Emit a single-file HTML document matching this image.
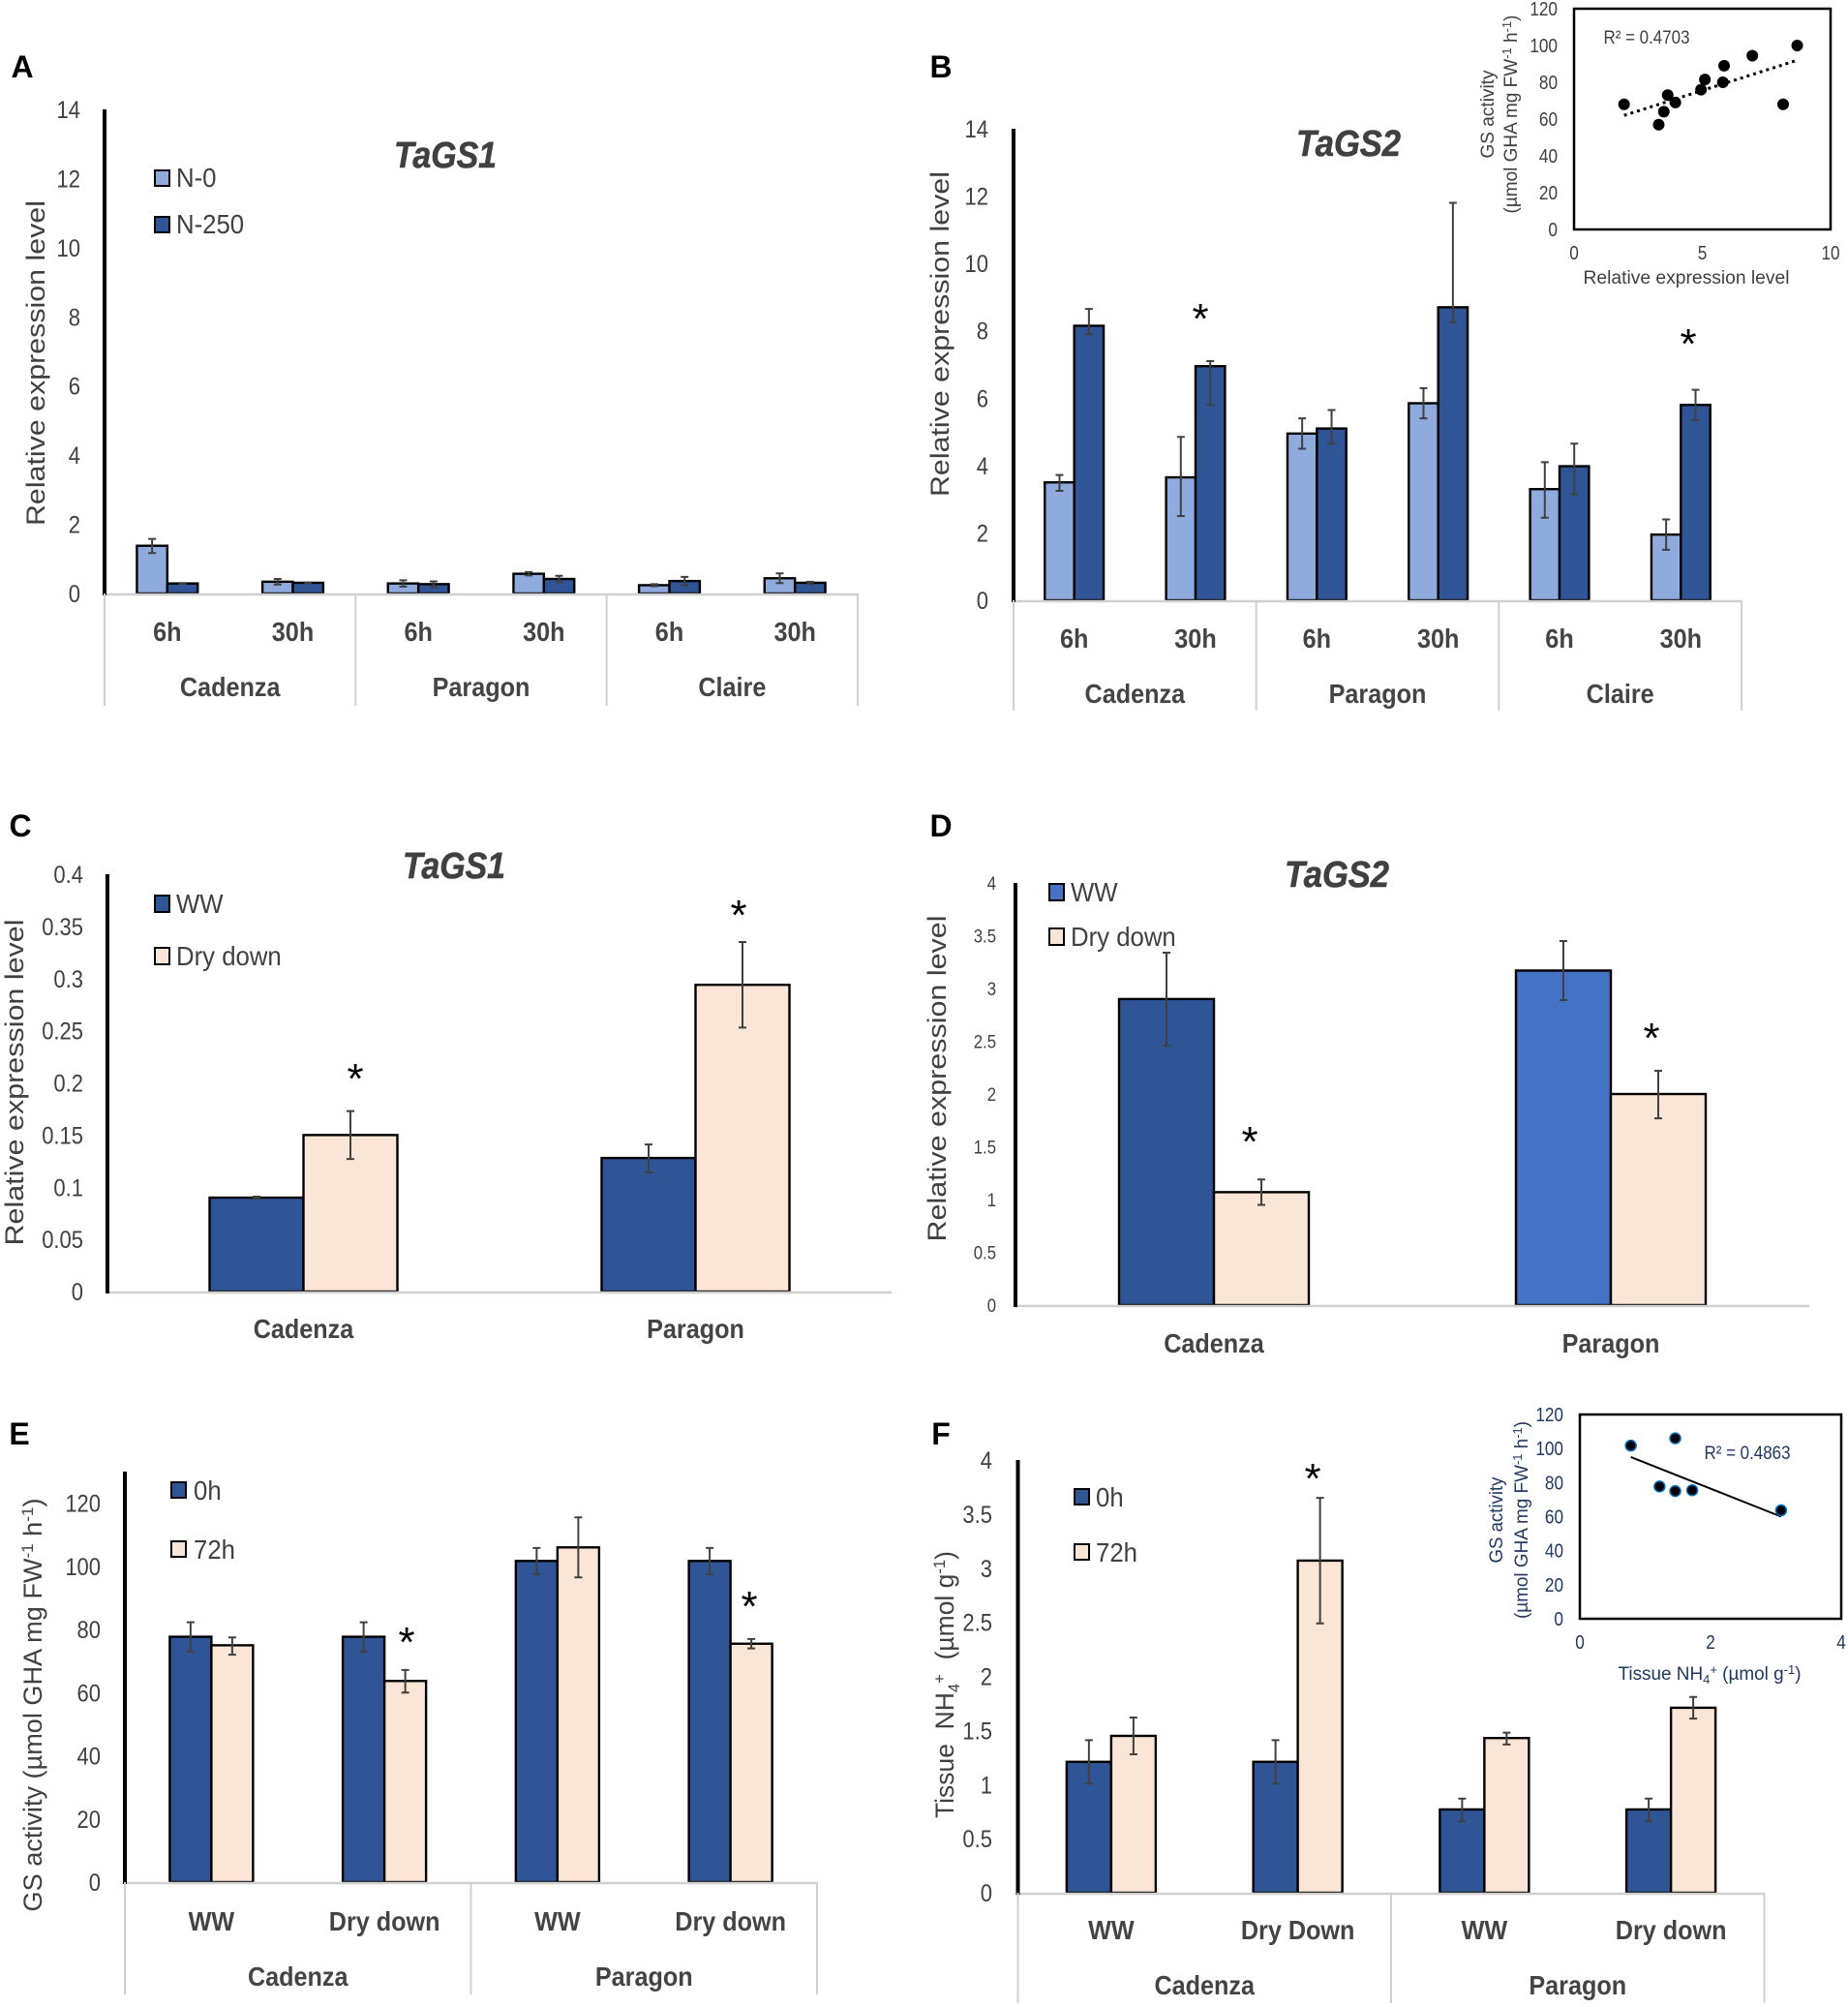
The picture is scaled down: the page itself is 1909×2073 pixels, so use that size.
<!DOCTYPE html>
<html lang="en">
<head>
<meta charset="utf-8">
<title>Glutamine synthetase expression and activity panels</title>
<style>
html,body{margin:0;padding:0;background:#fff;}
svg{display:block;}
text{font-family:"Liberation Sans",sans-serif;fill:#404040;}
.title{font-weight:bold;font-style:italic;font-size:38px;fill:#404040;stroke:#404040;stroke-width:.6px;text-anchor:middle;}
.letter{font-weight:bold;font-size:32px;fill:#000;text-anchor:middle;}
.ytitle{font-size:27px;text-anchor:middle;white-space:pre;}
.legend{font-size:28px;}
.star{font-size:44px;fill:#000;text-anchor:middle;}
.inset{font-size:19px;text-anchor:middle;}
.navy{fill:#1f3864;}
</style>
</head>
<body>
<svg id="fig" width="1909" height="2073" viewBox="0 0 1909 2073" xmlns="http://www.w3.org/2000/svg">
<rect x="0" y="0" width="1909" height="2073" fill="#fff"/>

<text class="letter" x="23" y="80">A</text>
<text class="letter" x="972" y="80">B</text>
<text class="letter" x="21" y="864">C</text>
<text class="letter" x="972" y="864">D</text>
<text class="letter" x="20" y="1492">E</text>
<text class="letter" x="972" y="1492">F</text>

<text class="title" x="460" y="173" textLength="106" lengthAdjust="spacingAndGlyphs">TaGS1</text>
<text class="title" x="1393" y="161" textLength="108" lengthAdjust="spacingAndGlyphs">TaGS2</text>
<text class="title" x="469" y="907" textLength="106" lengthAdjust="spacingAndGlyphs">TaGS1</text>
<text class="title" x="1381" y="916" textLength="108" lengthAdjust="spacingAndGlyphs">TaGS2</text>

<text class="ytitle" transform="translate(46,375) rotate(-90)" textLength="336" lengthAdjust="spacingAndGlyphs">Relative expression level</text>
<text class="ytitle" transform="translate(980,345) rotate(-90)" textLength="336" lengthAdjust="spacingAndGlyphs">Relative expression level</text>
<text class="ytitle" transform="translate(24,1118) rotate(-90)" textLength="337" lengthAdjust="spacingAndGlyphs">Relative expression level</text>
<text class="ytitle" transform="translate(977,1114) rotate(-90)" textLength="337" lengthAdjust="spacingAndGlyphs">Relative expression level</text>
<text class="ytitle" transform="translate(43,1761) rotate(-90)" textLength="427" lengthAdjust="spacingAndGlyphs">GS activity (µmol GHA mg FW<tspan font-size="17" dy="-9">-1</tspan><tspan dy="9"> h</tspan><tspan font-size="17" dy="-9">-1</tspan><tspan dy="9">)</tspan></text>
<text class="ytitle" transform="translate(985,1740) rotate(-90)" textLength="276" lengthAdjust="spacingAndGlyphs">Tissue  NH<tspan font-size="17" dy="6">4</tspan><tspan font-size="17" dy="-15">+</tspan><tspan dy="9">  (µmol g</tspan><tspan font-size="17" dy="-9">-1</tspan><tspan dy="9">)</tspan></text>

<g>
  <rect x="160" y="176" width="15" height="16" fill="#8faadc" stroke="#000" stroke-width="2"/>
  <text class="legend" transform="translate(182,193) scale(.92,1)">N-0</text>
  <rect x="160" y="224" width="15" height="16" fill="#2f5597" stroke="#000" stroke-width="2"/>
  <text class="legend" transform="translate(182,241) scale(.92,1)">N-250</text>
</g>
<g>
  <rect x="160" y="925" width="15" height="17" fill="#2f5597" stroke="#000" stroke-width="2"/>
  <text class="legend" transform="translate(182,943) scale(.92,1)">WW</text>
  <rect x="160" y="979" width="15" height="17" fill="#fbe5d6" stroke="#000" stroke-width="2"/>
  <text class="legend" transform="translate(182,997) scale(.92,1)">Dry down</text>
</g>
<g>
  <rect x="1084" y="913" width="15" height="17" fill="#4472c4" stroke="#000" stroke-width="2"/>
  <text class="legend" transform="translate(1106,931) scale(.92,1)">WW</text>
  <rect x="1084" y="959" width="15" height="17" fill="#fbe5d6" stroke="#000" stroke-width="2"/>
  <text class="legend" transform="translate(1106,977) scale(.92,1)">Dry down</text>
</g>
<g>
  <rect x="177" y="1531" width="15" height="16" fill="#2f5597" stroke="#000" stroke-width="2"/>
  <text class="legend" transform="translate(200,1549) scale(.92,1)">0h</text>
  <rect x="177" y="1592" width="15" height="16" fill="#fbe5d6" stroke="#000" stroke-width="2"/>
  <text class="legend" transform="translate(200,1610) scale(.92,1)">72h</text>
</g>
<g>
  <rect x="1110" y="1538" width="15" height="16" fill="#2f5597" stroke="#000" stroke-width="2"/>
  <text class="legend" transform="translate(1132,1556) scale(.92,1)">0h</text>
  <rect x="1110" y="1595" width="15" height="16" fill="#fbe5d6" stroke="#000" stroke-width="2"/>
  <text class="legend" transform="translate(1132,1613) scale(.92,1)">72h</text>
</g>

<text class="inset" x="1742" y="293" textLength="213" lengthAdjust="spacingAndGlyphs">Relative expression level</text>
<text class="inset" transform="translate(1543,118) rotate(-90)" textLength="91" lengthAdjust="spacingAndGlyphs">GS activity</text>
<text class="inset" transform="translate(1567,118) rotate(-90)" textLength="205" lengthAdjust="spacingAndGlyphs">(µmol GHA mg FW<tspan font-size="13" dy="-6">-1</tspan><tspan dy="6"> h</tspan><tspan font-size="13" dy="-6">-1</tspan><tspan dy="6">)</tspan></text>
<text class="inset" x="1701" y="45" textLength="89" lengthAdjust="spacingAndGlyphs">R² = 0.4703</text>

<text class="inset navy" x="1766" y="1735" textLength="189" lengthAdjust="spacingAndGlyphs">Tissue NH<tspan font-size="13" dy="4">4</tspan><tspan font-size="13" dy="-10">+</tspan><tspan dy="6"> (µmol g</tspan><tspan font-size="13" dy="-6">-1</tspan><tspan dy="6">)</tspan></text>
<text class="inset navy" transform="translate(1552,1570) rotate(-90)" textLength="89" lengthAdjust="spacingAndGlyphs">GS activity</text>
<text class="inset navy" transform="translate(1578,1570) rotate(-90)" textLength="204" lengthAdjust="spacingAndGlyphs">(µmol GHA mg FW<tspan font-size="13" dy="-6">-1</tspan><tspan dy="6"> h</tspan><tspan font-size="13" dy="-6">-1</tspan><tspan dy="6">)</tspan></text>
<text class="inset navy" x="1805" y="1507" textLength="89" lengthAdjust="spacingAndGlyphs">R² = 0.4863</text>

<text class="star" x="1240" y="344">*</text>
<text class="star" x="1744" y="370">*</text>
<text class="star" x="367" y="1129">*</text>
<text class="star" x="763" y="960">*</text>
<text class="star" x="1291" y="1194">*</text>
<text class="star" x="1706" y="1087">*</text>
<text class="star" x="420" y="1711">*</text>
<text class="star" x="774" y="1674">*</text>
<text class="star" x="1356" y="1542">*</text>
</svg>

<script>
// Panel A
const aTicks = [0, 2, 4, 6, 8, 10, 12, 14];
const aCategories = ['6h', '30h', '6h', '30h', '6h', '30h'];
const aGroups = ['Cadenza', 'Paragon', 'Claire'];
const aN0 = [1.38, 0.34, 0.29, 0.57, 0.24, 0.44];
const aN0Low = [1.17, 0.26, 0.2, 0.52, 0.21, 0.3];
const aN0High = [1.58, 0.42, 0.38, 0.62, 0.27, 0.58];
const aN250 = [0.29, 0.31, 0.27, 0.42, 0.36, 0.31];
const aN250Low = [0.28, 0.3, 0.18, 0.33, 0.24, 0.27];
const aN250High = [0.3, 0.32, 0.35, 0.51, 0.48, 0.34];

// Panel B
const bTicks = [0, 2, 4, 6, 8, 10, 12, 14];
const bCategories = ['6h', '30h', '6h', '30h', '6h', '30h'];
const bGroups = ['Cadenza', 'Paragon', 'Claire'];
const bN0 = [3.5, 3.65, 4.95, 5.85, 3.3, 1.95];
const bN0Low = [3.25, 2.5, 4.5, 5.4, 2.45, 1.5];
const bN0High = [3.72, 4.85, 5.4, 6.3, 4.1, 2.4];
const bN250 = [8.15, 6.95, 5.1, 8.7, 3.98, 5.8];
const bN250Low = [7.9, 5.8, 4.65, 8.25, 3.15, 5.35];
const bN250High = [8.65, 7.1, 5.65, 11.8, 4.65, 6.25];

// Panel C
const cTicks = [0, 0.05, 0.1, 0.15, 0.2, 0.25, 0.3, 0.35, 0.4];
const cCategories = ['Cadenza', 'Paragon'];
const cWW = [0.09, 0.128];
const cWWLow = [0.089, 0.114];
const cWWHigh = [0.091, 0.141];
const cDry = [0.15, 0.294];
const cDryLow = [0.127, 0.253];
const cDryHigh = [0.173, 0.335];

// Panel D
const dTicks = [0, 0.5, 1, 1.5, 2, 2.5, 3, 3.5, 4];
const dCategories = ['Cadenza', 'Paragon'];
const dWW = [2.9, 3.17];
const dWWLow = [2.46, 2.89];
const dWWHigh = [3.34, 3.45];
const dDry = [1.07, 2.0];
const dDryLow = [0.95, 1.77];
const dDryHigh = [1.19, 2.22];

// Panel E
const eTicks = [0, 20, 40, 60, 80, 100, 120];
const eCategories = ['WW', 'Dry down', 'WW', 'Dry down'];
const eGroups = ['Cadenza', 'Paragon'];
const e0h = [77.7, 77.7, 101.7, 101.7];
const e0hLow = [73, 73, 97.5, 97.5];
const e0hHigh = [82.3, 82.3, 105.8, 105.8];
const e72h = [75, 63.7, 106, 75.5];
const e72hLow = [72, 60, 96.5, 74];
const e72hHigh = [77.5, 67.2, 115.5, 77];

// Panel F
const fTicks = [0, 0.5, 1, 1.5, 2, 2.5, 3, 3.5, 4];
const fCategories = ['WW', 'Dry Down', 'WW', 'Dry down'];
const fGroups = ['Cadenza', 'Paragon'];
const f0h = [1.21, 1.21, 0.77, 0.77];
const f0hLow = [1.01, 1.01, 0.66, 0.66];
const f0hHigh = [1.41, 1.41, 0.87, 0.87];
const f72h = [1.45, 3.07, 1.43, 1.71];
const f72hLow = [1.28, 2.49, 1.37, 1.61];
const f72hHigh = [1.62, 3.65, 1.48, 1.81];

// Inset B
const ibXTicks = [0, 5, 10];
const ibYTicks = [0, 20, 40, 60, 80, 100, 120];
const ibX = [1.95, 3.3, 3.5, 3.65, 3.95, 4.95, 5.1, 5.8, 5.85, 6.95, 8.15, 8.7];
const ibY = [68, 57, 64, 73, 69, 76, 81.5, 80, 89, 94.5, 68, 100];
const ibTrendX = [1.95, 8.7];
const ibTrendY = [62, 92];

// Inset F
const ifXTicks = [0, 2, 4];
const ifYTicks = [0, 20, 40, 60, 80, 100, 120];
const ifX = [0.78, 1.22, 1.46, 1.46, 1.72, 3.08];
const ifY = [101.7, 77.7, 106, 75, 75.5, 63.7];
const ifTrendX = [0.78, 3.08];
const ifTrendY = [95, 60];

const svg = document.getElementById('fig');
const NS = 'http://www.w3.org/2000/svg';

function shape(parent, tag, attrs) {
  const el = document.createElementNS(NS, tag);
  for (const k in attrs) el.setAttribute(k, attrs[k]);
  parent.appendChild(el);
  return el;
}
function label(parent, x, y, str, size, anchor, bold, sx, color) {
  const el = shape(parent, 'text', {
    transform: 'translate(' + x + ',' + y + ') scale(' + sx + ',1)',
    'font-size': size,
    'text-anchor': anchor,
    'font-weight': bold ? 'bold' : 'normal',
    style: 'fill:' + color
  });
  el.textContent = str;
  return el;
}

function drawBars(prefix, p, ticks, categories, groups, series) {
  const g = shape(svg, 'g', {});
  
  
  const yOf = v => p.y0 - v / p.max * (p.y0 - p.yTop);
  const catW = (p.x1 - p.x0) / categories.length;
  const catX = i => p.x0 + catW * (i + 0.5);

  ticks.forEach(t => {
    const tl = label(g, p.tickX, yOf(t) + p.tickSize * 0.36, String(t), p.tickSize, 'end', false, p.tickSx, '#404040');
    
    
  });

  series.forEach((s, si) => {
    s.values.forEach((v, i) => {
      const bx = catX(i) + (si - series.length / 2) * p.barW;
      const fill = s.colors ? s.colors[i] : s.color;
      const bar = shape(g, 'rect', { x: bx, y: yOf(v), width: p.barW, height: p.y0 - yOf(v), fill: fill, stroke: '#000', 'stroke-width': 2.4 });
      
      
    });
  });
  series.forEach((s, si) => {
    s.values.forEach((v, i) => {
      const ex = catX(i) + (si - series.length / 2 + 0.5) * p.barW;
      const path = 'M' + (ex - 4) + ' ' + yOf(s.high[i]) + 'H' + (ex + 4) + 'M' + ex + ' ' + yOf(s.high[i]) + 'V' + yOf(s.low[i]) + 'M' + (ex - 4) + ' ' + yOf(s.low[i]) + 'H' + (ex + 4);
      const err = shape(g, 'path', { d: path, fill: 'none', stroke: '#404040', 'stroke-width': 2 });
      
      
    });
  });

  const xAxis = shape(g, 'line', { x1: p.x0, x2: p.x1, y1: p.y0 + 1, y2: p.y0 + 1, stroke: '#d0d0d0', 'stroke-width': 2.5 });
  
  
  const yAxis = shape(g, 'line', { x1: p.x0, x2: p.x0, y1: p.yTop, y2: p.y0 + 2, stroke: '#000', 'stroke-width': 4 });
  
  

  categories.forEach((c, i) => {
    const cl = label(g, catX(i), p.catY, c, p.catSize, 'middle', true, p.catSx, '#444');
    
    
  });
  if (groups) {
    const perGroup = categories.length / groups.length;
    groups.forEach((gr, i) => {
      const gl = label(g, p.x0 + catW * perGroup * (i + 0.5), p.groupY, gr, p.catSize, 'middle', true, p.catSx, '#444');
      
      
    });
    for (let i = 0; i <= groups.length; i++) {
      const sx = p.x0 + catW * perGroup * i;
      const sep = shape(g, 'line', { x1: sx, x2: sx, y1: p.y0, y2: p.sepY, stroke: '#d0d0d0', 'stroke-width': 2 });
      
      
    }
  }
}

function drawScatter(prefix, b, xTicks, yTicks, xs, ys, tx, ty, opt) {
  const g = shape(svg, 'g', {});
  
  
  const xOf = v => b.x0 + v / xTicks[xTicks.length - 1] * (b.x1 - b.x0);
  const yOf = v => b.y1 - v / yTicks[yTicks.length - 1] * (b.y1 - b.y0);
  const box = shape(g, 'rect', { x: b.x0, y: b.y0, width: b.x1 - b.x0, height: b.y1 - b.y0, fill: 'none', stroke: '#000', 'stroke-width': 2.5 });
  
  
  yTicks.forEach(t => {
    const tl = label(g, b.x0 - 17, yOf(t) + 7, String(t), 20, 'end', false, 0.86, opt.text);
    
    
  });
  xTicks.forEach(t => {
    const tl = label(g, xOf(t), b.xLabelY, String(t), 20, 'middle', false, 0.86, opt.text);
    
    
  });
  const trend = shape(g, 'line', { x1: xOf(tx[0]), y1: yOf(ty[0]), x2: xOf(tx[1]), y2: yOf(ty[1]), stroke: '#000', 'stroke-width': opt.dash ? 3 : 2, 'stroke-dasharray': opt.dash || 'none' });
  
  
  xs.forEach((x, i) => {
    const dot = shape(g, 'circle', { cx: xOf(x), cy: yOf(ys[i]), r: opt.r, fill: '#000', stroke: opt.ring, 'stroke-width': opt.ringW });
    
    
  });
}

const LIGHT = '#8faadc', DARK = '#2f5597', CREAM = '#fbe5d6', MID = '#4472c4';

drawBars('a', { x0: 108, x1: 886, y0: 613, yTop: 113, max: 14, barW: 31.4, tickX: 83, tickSize: 25, tickSx: 0.88, catSize: 28, catSx: 0.9, catY: 662, groupY: 719, sepY: 729 },
  aTicks, aCategories, aGroups, [
    { name: 'n-0', color: LIGHT, values: aN0, low: aN0Low, high: aN0High },
    { name: 'n-250', color: DARK, values: aN250, low: aN250Low, high: aN250High }
  ]);

drawBars('b', { x0: 1047, x1: 1799, y0: 620, yTop: 133, max: 14, barW: 30.4, tickX: 1021, tickSize: 25, tickSx: 0.88, catSize: 28, catSx: 0.9, catY: 669, groupY: 726, sepY: 734 },
  bTicks, bCategories, bGroups, [
    { name: 'n-0', color: LIGHT, values: bN0, low: bN0Low, high: bN0High },
    { name: 'n-250', color: DARK, values: bN250, low: bN250Low, high: bN250High }
  ]);

drawBars('c', { x0: 111, x1: 921, y0: 1334, yTop: 903, max: 0.4, barW: 97, tickX: 86, tickSize: 25, tickSx: 0.88, catSize: 28, catSx: 0.9, catY: 1382 },
  cTicks, cCategories, null, [
    { name: 'ww', color: DARK, values: cWW, low: cWWLow, high: cWWHigh },
    { name: 'dry-down', color: CREAM, values: cDry, low: cDryLow, high: cDryHigh }
  ]);

drawBars('d', { x0: 1049, x1: 1869, y0: 1348, yTop: 912, max: 4, barW: 98, tickX: 1029, tickSize: 19, tickSx: 0.88, catSize: 28, catSx: 0.9, catY: 1397 },
  dTicks, dCategories, null, [
    { name: 'ww', colors: [DARK, MID], values: dWW, low: dWWLow, high: dWWHigh },
    { name: 'dry-down', color: CREAM, values: dDry, low: dDryLow, high: dDryHigh }
  ]);

drawBars('e', { x0: 129, x1: 844, y0: 1944, yTop: 1520, max: 130, barW: 43, tickX: 104, tickSize: 25, tickSx: 0.88, catSize: 28, catSx: 0.9, catY: 1994, groupY: 2051, sepY: 2060 },
  eTicks, eCategories, eGroups, [
    { name: '0h', color: DARK, values: e0h, low: e0hLow, high: e0hHigh },
    { name: '72h', color: CREAM, values: e72h, low: e72hLow, high: e72hHigh }
  ]);

drawBars('f', { x0: 1051.5, x1: 1822.5, y0: 1955, yTop: 1508, max: 4, barW: 46, tickX: 1025, tickSize: 25, tickSx: 0.88, catSize: 28, catSx: 0.9, catY: 2003, groupY: 2060, sepY: 2069 },
  fTicks, fCategories, fGroups, [
    { name: '0h', color: DARK, values: f0h, low: f0hLow, high: f0hHigh },
    { name: '72h', color: CREAM, values: f72h, low: f72hLow, high: f72hHigh }
  ]);

drawScatter('b', { x0: 1626, x1: 1891, y0: 9, y1: 237, xLabelY: 268 }, ibXTicks, ibYTicks, ibX, ibY, ibTrendX, ibTrendY,
  { dash: '3 4', r: 6, ring: '#000', ringW: 0, text: '#404040' });

drawScatter('f', { x0: 1632, x1: 1902, y0: 1461, y1: 1672, xLabelY: 1703 }, ifXTicks, ifYTicks, ifX, ifY, ifTrendX, ifTrendY,
  { dash: null, r: 5.5, ring: '#0070c0', ringW: 1.5, text: '#1f3864' });
</script>
</body>
</html>
